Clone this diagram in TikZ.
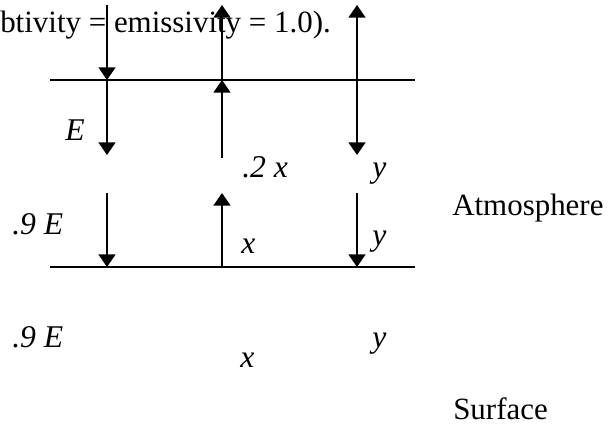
\documentclass[tikz,border=0pt]{standalone}
\usepackage{fontspec}
\setmainfont{Liberation Serif}
\usetikzlibrary{arrows.meta}

\begin{document}
\begin{tikzpicture}[
  x=0.025cm, y=-0.025cm,
  font=\fontsize{22}{26}\selectfont,
  layer/.style={line width=1.4pt},
  flux/.style={line width=1.4pt, -{Triangle[width=12pt, length=9pt]}},
  lbl/.style={inner sep=0pt, anchor=base west, font=\fontsize{22.5}{26}\selectfont\itshape},
  txt/.style={inner sep=0pt, anchor=base west}
]
\useasboundingbox (0,0) rectangle (609,425);
\node[txt] (caption) at (0,33) {btivity = emissivity = 1.0).};
% layer boundaries
\coordinate (atmtopW) at (50,80);  \coordinate (atmtopE) at (415,80);
\coordinate (atmbotW) at (50,267); \coordinate (atmbotE) at (415,267);
\draw[layer] (atmtopW) -- (atmtopE);
\draw[layer] (atmbotW) -- (atmbotE);
% solar column
\coordinate (sunIn) at (107,5);   \coordinate (sunTop) at (107,80);
\coordinate (sunMid) at (107,155); \coordinate (sunLow) at (107,193);
\coordinate (sunBot) at (107,267);
\draw[flux] (sunIn) -- (sunTop);
\draw[flux] (sunTop) -- (sunMid);
\draw[flux] (sunLow) -- (sunBot);
% surface emission column
\coordinate (irOut) at (222,5);   \coordinate (irTop) at (222,80);
\coordinate (irMid) at (222,158); \coordinate (irLow) at (222,193);
\coordinate (irBot) at (222,267);
\draw[flux] (irTop) -- (irOut);
\draw[flux] (irMid) -- (irTop);
\draw[flux] (irBot) -- (irLow);
% atmosphere emission column
\coordinate (atmOut) at (357,5);   \coordinate (atmTop) at (357,80);
\coordinate (atmMid) at (357,155); \coordinate (atmLow) at (357,193);
\coordinate (atmBot) at (357,267);
\draw[flux] (atmTop) -- (atmOut);
\draw[flux] (atmTop) -- (atmMid);
\draw[flux] (atmLow) -- (atmBot);
% labels
\node[lbl] (lblE) at (65,141) {E};
\node[lbl] (lblNineE) at (12,235) {.9 E};
\node[lbl] (lblTwoX) at (242,178) {.2 x};
\node[lbl] (lblX) at (241,253) {x};
\node[lbl] (lblYa) at (372,178) {y};
\node[lbl] (lblYb) at (372,245) {y};
\node[lbl] (lblNineEs) at (12,347) {.9 E};
\node[lbl] (lblXs) at (240,367) {x};
\node[lbl] (lblYs) at (372,347) {y};
\node[txt] (atmos) at (452,216) {Atmosphere};
\node[txt] (surf) at (453,419) {Surface};
\end{tikzpicture}
\end{document}
